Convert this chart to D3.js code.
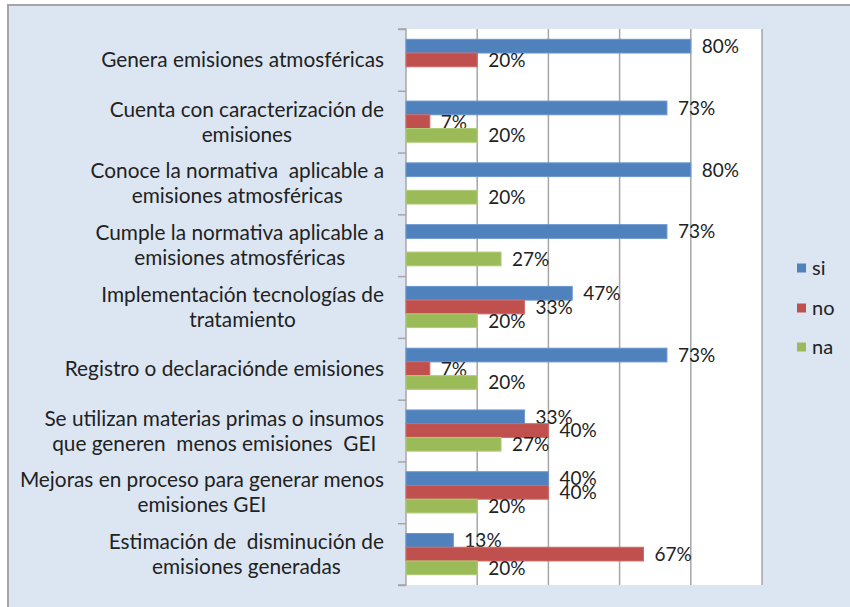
<!DOCTYPE html>
<html><head><meta charset="utf-8">
<script src="https://cdn.jsdelivr.net/npm/d3@7"></script>
<style>html,body{margin:0;padding:0;background:#fff}svg{display:block}text{white-space:pre}</style>
</head><body>
<svg id="c" width="850" height="607"></svg>
<script>
const categories = [
  ["Genera emisiones atmosféricas"],
  ["Cuenta con caracterización de", "emisiones"],
  ["Conoce la normativa  aplicable a", "emisiones atmosféricas"],
  ["Cumple la normativa aplicable a", "emisiones atmosféricas"],
  ["Implementación tecnologías de", "tratamiento"],
  ["Registro o declaraciónde emisiones"],
  ["Se utilizan materias primas o insumos", "que generen  menos emisiones  GEI"],
  ["Mejoras en proceso para generar menos", "emisiones GEI"],
  ["Estimación de  disminución de", "emisiones generadas"]
];
const seriesNames = ["si", "no", "na"];
const siValues = [80, 73.3, 80, 73.3, 46.7, 73.3, 33.3, 40, 13.3];
const noValues = [20, 6.7, null, null, 33.3, 6.7, 40, 40, 66.7];
const naValues = [null, 20, 20, 26.7, 20, 20, 26.7, 20, 20];
const xTicks = [0, 20, 40, 60, 80, 100];
const colors = ["#4f81bd", "#c0504d", "#9bbb59"];
const strokes = ["#6b97cf", "#d06a67", "#b0cc78"];

const series = [siValues, noValues, naValues];
const svg = d3.select("#c");
const font = "Lato, 'Open Sans', sans-serif";

// frame
svg.append("rect").attr("x", 8).attr("y", 5).attr("width", 900).attr("height", 700)
  .attr("fill", "#dce6f2").attr("stroke", "#a5a5a5").attr("stroke-width", 2);

const pL = 406, pR = 762, pT = 29, pB = 585;
const x = d3.scaleLinear().domain([0, 100]).range([pL, pR]);
const y = d3.scaleBand().domain(d3.range(categories.length)).range([pT, pB]);
const inner = d3.scaleBand().domain(d3.range(3)).range([0, y.bandwidth()]).paddingInner(0).paddingOuter(0.75);

svg.append("rect").attr("x", pL).attr("y", pT).attr("width", pR - pL).attr("height", pB - pT).attr("fill", "#fff");

// gridlines
svg.append("g").selectAll("line").data(xTicks.slice(1)).join("line")
  .attr("x1", d => x(d)).attr("x2", d => x(d)).attr("y1", pT).attr("y2", pB)
  .attr("stroke", "#a6a6a6").attr("stroke-width", 1.5);

// left axis
const yAxis = d3.axisLeft(d3.scaleLinear().domain([0, categories.length]).range([pT, pB]))
  .tickValues(d3.range(categories.length + 1)).tickSize(8).tickFormat("");
const ag = svg.append("g").attr("transform", `translate(${pL},0)`).call(yAxis);
ag.selectAll("path,line").attr("stroke", "#a6a6a6").attr("stroke-width", 1.5);
ag.select("path").attr("d", `M-8,${pT}H0V${pB}H-8`);

// bars
const fmt = v => Math.round(v) + "%";
series.forEach((vals, s) => {
  const g = svg.append("g");
  const data = vals.map((v, i) => ({v, i})).filter(d => d.v != null);
  g.selectAll("rect").data(data).join("rect")
    .attr("x", x(0)).attr("y", d => y(d.i) + inner(s))
    .attr("width", d => x(d.v) - x(0)).attr("height", inner.bandwidth())
    .attr("fill", colors[s]).attr("stroke", strokes[s]).attr("stroke-width", 1);
  g.selectAll("text").data(data).join("text")
    .attr("x", d => x(d.v) + 11).attr("y", d => y(d.i) + inner(s) + inner.bandwidth() / 2)
    .attr("dy", "0.36em").attr("font-family", font).attr("font-size", 19).attr("fill", "#222")
    .text(d => fmt(d.v));
});

// category labels
const lab = svg.append("g");
categories.forEach((lines, i) => {
  const t = lab.append("text").attr("font-family", font).attr("font-size", 20.8).attr("fill", "#222")
    .attr("text-anchor", "middle");
  const lh = 25;
  const cy = y(i) + y.bandwidth() / 2;
  const spans = lines.map((l, k) => t.append("tspan").attr("y", cy - (lines.length - 1) * lh / 2 + k * lh).attr("dy", "0.36em").text(l));
  let maxW = 0;
  spans.forEach(sp => { maxW = Math.max(maxW, sp.node().getComputedTextLength()); });
  spans.forEach(sp => sp.attr("x", 384 - maxW / 2));
});

// legend
const leg = svg.append("g");
seriesNames.forEach((n, s) => {
  const cy = [268, 308, 347][s];
  leg.append("rect").attr("x", 797).attr("y", cy - 4.5).attr("width", 9).attr("height", 9).attr("fill", colors[s]);
  leg.append("text").attr("x", 812).attr("y", cy).attr("dy", "0.36em").attr("font-family", font)
    .attr("font-size", 20).attr("fill", "#222").text(n);
});
</script>
</body></html>
